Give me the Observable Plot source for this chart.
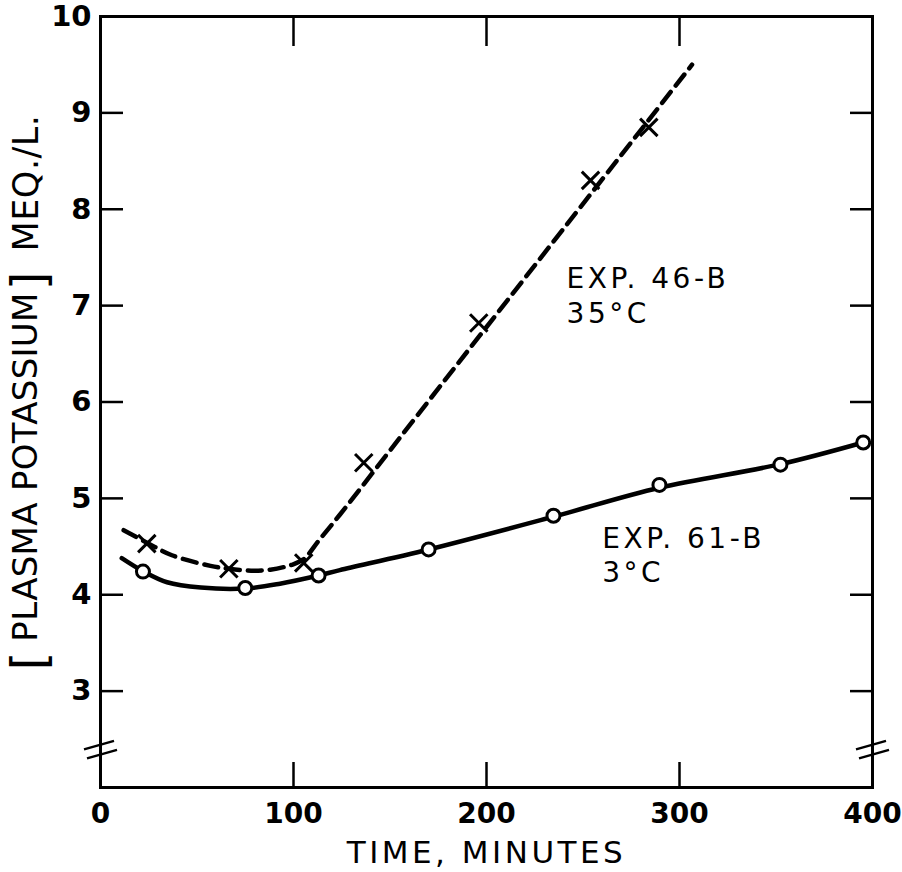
<!DOCTYPE html>
<html>
<head>
<meta charset="utf-8">
<script src="https://cdn.jsdelivr.net/npm/d3@7"></script>
<script src="https://cdn.jsdelivr.net/npm/@observablehq/plot@0.6"></script>
<style>
  html, body { margin: 0; padding: 0; background: #fff; }
  #chart svg { display: block; }
</style>
</head>
<body>
<div id="chart"></div>
<script>
// ---- Data ----
// Exp. 46-B, 35°C (crosses, dashed curve)
const exp46Minutes   = [24, 66.5, 105.3, 136.4, 196, 253.9, 284.1];
const exp46Potassium = [4.53, 4.27, 4.33, 5.37, 6.82, 8.30, 8.85];
// Exp. 61-B, 3°C (open circles, solid curve)
const exp61Minutes   = [22, 75, 113, 170, 234.7, 289.6, 352.3, 395.2];
const exp61Potassium = [4.24, 4.07, 4.20, 4.47, 4.82, 5.14, 5.35, 5.58];

// Hand-drawn fitted curves
const curve46Minutes   = [12, 25, 37, 57, 66.5, 78, 88, 99, 105.3, 113, 124, 161, 306.5];
const curve46Potassium = [4.67, 4.53, 4.41, 4.30, 4.27, 4.25, 4.26, 4.31, 4.37, 4.56, 4.83, 5.78, 9.5];
const curve61Minutes   = [11, 22, 34.5, 52, 75, 93, 113, 124, 170, 234.7, 289.6, 352.3, 395.2];
const curve61Potassium = [4.38, 4.245, 4.13, 4.075, 4.065, 4.115, 4.20, 4.255, 4.47, 4.81, 5.11, 5.355, 5.58];

// Axis ticks
const xTickLabels = [0, 100, 200, 300, 400];
const xInnerTicks = [100, 200, 300];
const yTickLabels = [3, 4, 5, 6, 7, 8, 9, 10];
const yInnerTicks = [3, 4, 5, 6, 7, 8, 9];

// Axis break markers (on both vertical axes)
const breakMinutes = [0, 400];
const breakLevel = [2.39, 2.39];

// Curve annotations
const noteText = ["EXP. 46-B\n35°C", "EXP. 61-B\n3°C"];
const noteMinutes = [241.5, 260];
const notePotassium = [7.115, 4.418];

const xTitle = "TIME, MINUTES";
const yTitleMain = "PLASMA POTASSIUM";
const yTitleUnit = "MEQ./L.";

// ---- Build tables ----
const pts46 = exp46Minutes.map((m, i) => ({m, k: exp46Potassium[i]}));
const pts61 = exp61Minutes.map((m, i) => ({m, k: exp61Potassium[i]}));
const line46 = curve46Minutes.map((m, i) => ({m, k: curve46Potassium[i]}));
const line61 = curve61Minutes.map((m, i) => ({m, k: curve61Potassium[i]}));
const breaks = breakMinutes.map((m, i) => ({m, k: breakLevel[i]}));
const notes = noteText.map((t, i) => ({t, m: noteMinutes[i], k: notePotassium[i]}));

const FONT = "DejaVu Sans";

// axis-break symbol: two short parallel slanted strokes
const breakSymbol = {
  draw(context) {
    context.moveTo(-16.5, -0.5); context.lineTo(13.5, -9);
    context.moveTo(-13.5, 8.5); context.lineTo(16.5, 0);
  }
};

const chart = Plot.plot({
  width: 902,
  height: 872,
  marginLeft: 100,
  marginRight: 30,
  marginTop: 16,
  marginBottom: 85,
  style: {fontFamily: FONT, background: "#fff", color: "#000"},
  x: {domain: [0, 400]},
  y: {domain: [2, 10]},
  marks: [
    // axes: inward ticks on all four sides
    Plot.axisY(yTickLabels, {anchor: "left", tickSize: -23, tickPadding: 32, tickFormat: d3.format("d"), fontSize: 29, fontWeight: "bold", fontFamily: FONT, strokeWidth: 2.5, label: null}),
    Plot.axisY(yInnerTicks, {anchor: "right", tickSize: -23, tickFormat: () => "", strokeWidth: 2.5, label: null}),
    Plot.axisX(xTickLabels, {anchor: "bottom", tickSize: -25, tickPadding: 41, tickFormat: d3.format("d"), fontSize: 28, fontWeight: "bold", fontFamily: FONT, strokeWidth: 2.5, label: null}),
    Plot.axisX(xInnerTicks, {anchor: "top", tickSize: -29, tickFormat: () => "", strokeWidth: 2.5, label: null}),
    Plot.frame({stroke: "#000", strokeWidth: 3}),
    // axis breaks
    Plot.dot(breaks, {x: "m", y: "k", symbol: breakSymbol, r: 5, stroke: "#000", strokeWidth: 2.5, fill: "none"}),
    // curves
    Plot.line(line46, {x: "m", y: "k", curve: "catmull-rom", stroke: "#000", strokeWidth: 4.5, strokeDasharray: "14,8"}),
    Plot.line(line61, {x: "m", y: "k", curve: "catmull-rom", stroke: "#000", strokeWidth: 4.5}),
    // data points
    Plot.dot(pts46, {x: "m", y: "k", symbol: "times", r: 8, stroke: "#000", strokeWidth: 3}),
    Plot.dot(pts61, {x: "m", y: "k", symbol: "circle", r: 6.5, fill: "#fff", stroke: "#000", strokeWidth: 3}),
    // annotations
    Plot.text(notes, {x: "m", y: "k", text: "t", textAnchor: "start", lineAnchor: "middle", lineHeight: 1.22, fontSize: 28, fontFamily: FONT, fill: "#000"}),
    // axis titles
    Plot.text([xTitle], {frameAnchor: "bottom", dy: 66, textAnchor: "middle", lineAnchor: "middle", fontSize: 31, fontFamily: FONT, fill: "#000"}),
    Plot.text([yTitleMain], {frameAnchor: "left", dx: -74, dy: 65, rotate: -90, textAnchor: "middle", lineAnchor: "middle", fontSize: 34, fontFamily: FONT, fill: "#000"}),
    Plot.text(["["], {frameAnchor: "left", dx: -69.5, dy: 259, rotate: -90, textAnchor: "middle", lineAnchor: "middle", fontSize: 48, fontFamily: FONT, fill: "#000"}),
    Plot.text(["]"], {frameAnchor: "left", dx: -69.5, dy: -121, rotate: -90, textAnchor: "middle", lineAnchor: "middle", fontSize: 48, fontFamily: FONT, fill: "#000"}),
    Plot.text([yTitleUnit], {frameAnchor: "left", dx: -74, dy: -219, rotate: -90, textAnchor: "middle", lineAnchor: "middle", fontSize: 35, fontFamily: FONT, fill: "#000"})
  ]
});

document.getElementById("chart").appendChild(chart);

// letter spacing to mimic the wide drafting lettering
d3.select(chart).selectAll("text").each(function () {
  const t = this.textContent;
  let ls = 0;
  if (t.includes("EXP") || t.includes("°")) ls = 3.5;
  else if (t === xTitle) ls = 3.5;
  else if (t === yTitleMain) ls = 0.3;
  else if (t === yTitleUnit) ls = 0.5;
  d3.select(this).attr("letter-spacing", ls);
});
</script>
</body>
</html>
